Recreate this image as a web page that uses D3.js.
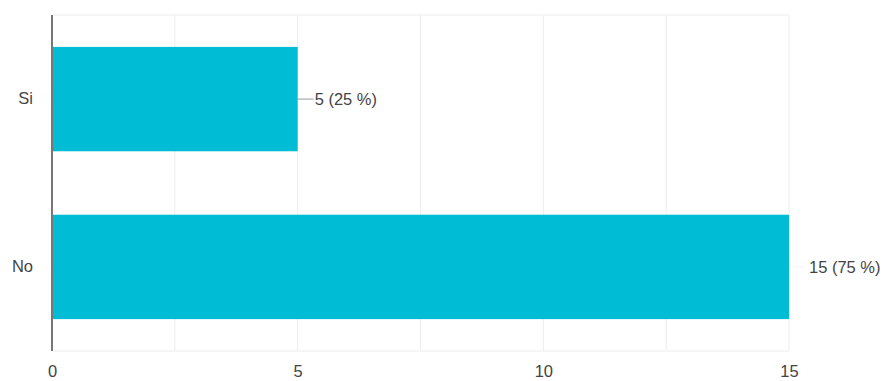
<!DOCTYPE html>
<html>
<head>
<meta charset="utf-8">
<script src="https://cdn.jsdelivr.net/npm/d3@7"></script>
<style>
  html, body { margin: 0; padding: 0; background: #fff; }
</style>
</head>
<body>
<div id="chart"></div>
<script>
  // ── Data ──
  var CATEGORIES = ['Si', 'No'];
  var COUNTS = [5, 15];
  var LABELS = ['5 (25 %)', '15 (75 %)'];
  var X_TICKS = [0, 5, 10, 15];
  var GRID_TICKS = [0, 2.5, 5, 7.5, 10, 12.5, 15];

  // ── Style ──
  var WIDTH = 891, HEIGHT = 381;
  var MARGIN = { top: 15, right: 102, bottom: 30, left: 52 };
  var BAR_COLOR = '#00bcd4';
  var TEXT_COLOR = '#444';
  var FONT = 'Liberation Sans, Arial, sans-serif';
  var FONT_SIZE = '16.5px';

  var plotW = WIDTH - MARGIN.left - MARGIN.right;
  var plotH = HEIGHT - MARGIN.top - MARGIN.bottom;

  var svg = d3.select('#chart').append('svg')
    .attr('width', WIDTH)
    .attr('height', HEIGHT);

  var g = svg.append('g')
    .attr('transform', 'translate(' + MARGIN.left + ',' + MARGIN.top + ')');

  var x = d3.scaleLinear().domain([0, 15]).range([0, plotW]);
  var y = d3.scaleBand().domain(CATEGORIES).range([0, plotH]).paddingInner(0.378).paddingOuter(0.19);

  // grid
  g.selectAll('.grid')
    .data(GRID_TICKS)
    .join('line')
    .attr('x1', function (d) { return x(d); })
    .attr('x2', function (d) { return x(d); })
    .attr('y1', 0).attr('y2', plotH)
    .attr('stroke', '#ededed')
    .attr('stroke-width', 1);

  [0, plotH].forEach(function (yy) {
    g.append('line')
      .attr('x1', 0).attr('x2', x(15))
      .attr('y1', yy).attr('y2', yy)
      .attr('stroke', '#ededed');
  });

  // bars
  g.selectAll('.bar')
    .data(COUNTS)
    .join('rect')
    .attr('class', 'bar')
    .attr('x', 0)
    .attr('y', function (d, i) { return y(CATEGORIES[i]); })
    .attr('width', function (d) { return x(d); })
    .attr('height', y.bandwidth())
    .attr('fill', BAR_COLOR);

  // leader lines + value labels
  COUNTS.forEach(function (d, i) {
    var cy = y(CATEGORIES[i]) + y.bandwidth() / 2;
    g.append('line')
      .attr('x1', x(d)).attr('x2', x(d) + 16)
      .attr('y1', cy).attr('y2', cy)
      .attr('stroke', i === 0 ? '#999' : '#f4f4f4')
      .attr('stroke-width', 1);
    g.append('text')
      .attr('x', x(d) + (i === 0 ? 17 : 20))
      .attr('y', cy)
      .attr('dy', '0.35em')
      .attr('fill', TEXT_COLOR)
      .attr('font-size', FONT_SIZE)
      .attr('font-family', FONT)
      .text(LABELS[i]);
  });

  // y axis line
  g.append('line')
    .attr('x1', 0).attr('x2', 0)
    .attr('y1', 0).attr('y2', plotH)
    .attr('stroke', '#777')
    .attr('stroke-width', 2);

  // category labels
  var yAxis = d3.axisLeft(y).tickSize(0).tickPadding(19);
  var yG = g.append('g').call(yAxis);
  yG.select('.domain').remove();
  yG.selectAll('text')
    .attr('fill', TEXT_COLOR)
    .attr('font-size', FONT_SIZE)
    .attr('font-family', FONT);

  // x tick labels
  var xAxis = d3.axisBottom(x).tickValues(X_TICKS).tickSize(0).tickPadding(14);
  var xG = g.append('g')
    .attr('transform', 'translate(0,' + plotH + ')')
    .call(xAxis);
  xG.select('.domain').remove();
  xG.selectAll('text')
    .attr('fill', TEXT_COLOR)
    .attr('font-size', FONT_SIZE)
    .attr('font-family', FONT);
</script>
</body>
</html>
